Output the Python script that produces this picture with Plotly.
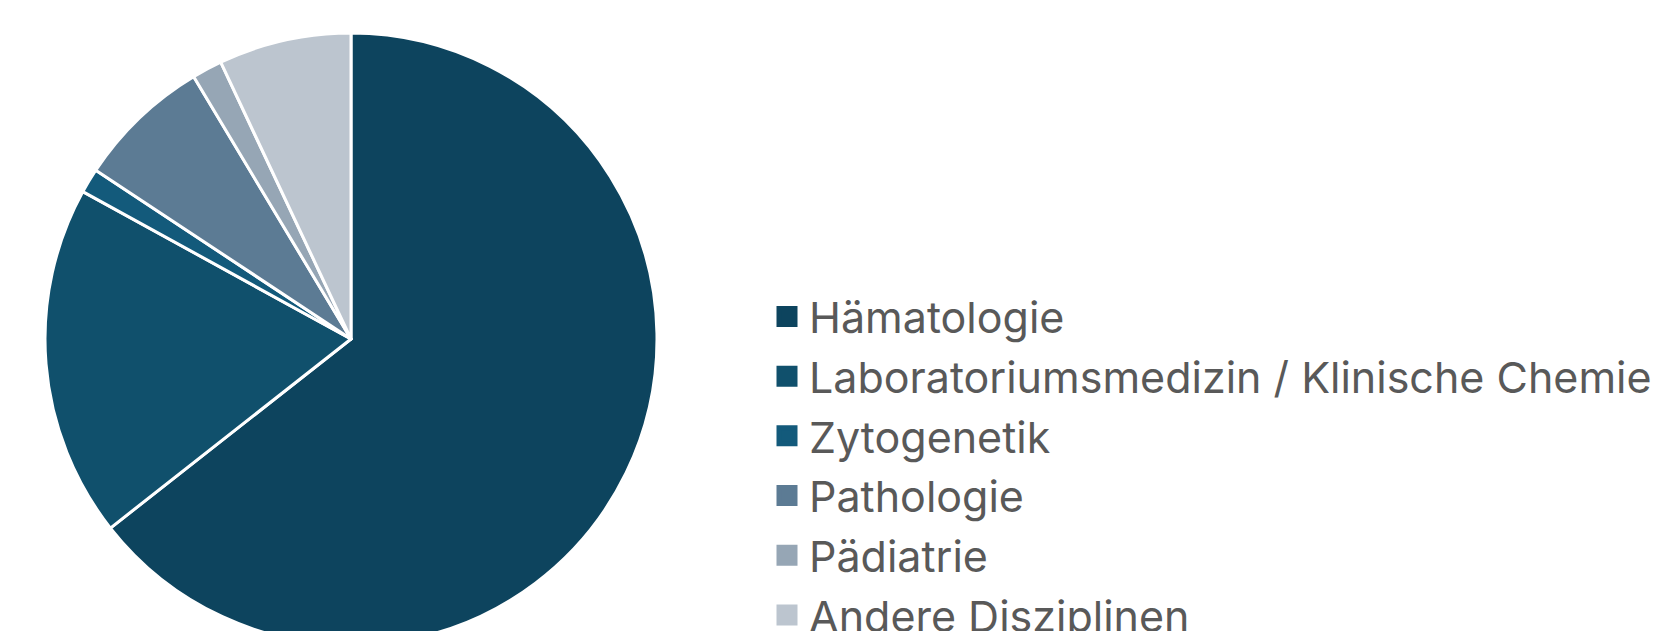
import plotly.graph_objects as go

labels = ["Hämatologie", "Laboratoriumsmedizin / Klinische Chemie", "Zytogenetik",
          "Pathologie", "Pädiatrie", "Andere Disziplinen"]
values = [64.4, 18.6, 1.3, 7.1, 1.6, 7.0]
colors = ["#0D445E", "#10506C", "#135A7B", "#5C7B94", "#96A6B5", "#BCC5CF"]

W, H = 1672, 660

fig = go.Figure()
fig.add_trace(go.Pie(
    labels=labels, values=values, sort=False, direction="clockwise", rotation=0,
    marker=dict(colors=colors, line=dict(color="white", width=3)),
    textinfo="none", hoverinfo="label+percent", showlegend=False,
    domain=dict(x=[37 / W, 649 / W], y=[(H - 331 - 306) / H, (H - 331 + 306) / H]),
))

# legend entries (one per category, same colours as the slices)
for lab, col in zip(labels, colors):
    fig.add_trace(go.Scatter(
        x=[None], y=[None], mode="markers", name=lab, legendgroup=lab,
        marker=dict(symbol="square", size=16, color=col, line=dict(color=col, width=5)),
        hoverinfo="skip",
    ))

fig.update_xaxes(visible=False)
fig.update_yaxes(visible=False)

fig.update_layout(
    width=W, height=H,
    margin=dict(l=0, r=0, t=0, b=0, autoexpand=False),
    paper_bgcolor="white", plot_bgcolor="white",
    showlegend=True,
    legend=dict(x=757 / W, xanchor="left", y=1 - 274 / H, yanchor="top",
                font=dict(family="Inter", size=43, color="#595959"),
                itemwidth=34, tracegroupgap=0.8, bgcolor="rgba(0,0,0,0)"),
)

fig.write_html("out.html")
